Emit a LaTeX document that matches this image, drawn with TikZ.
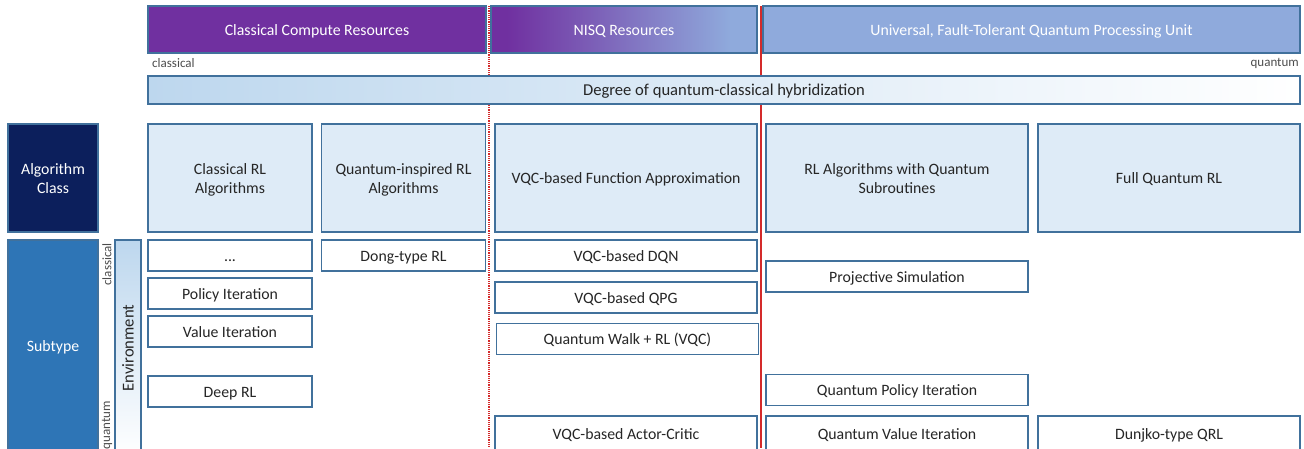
\documentclass[tikz,border=0pt]{standalone}
\usepackage{fontspec}
\setmainfont{Carlito}
\usetikzlibrary{positioning}
\definecolor{purp}{HTML}{7030A0}
\definecolor{nisqblue}{HTML}{8FAADC}
\definecolor{frame}{HTML}{41719C}
\definecolor{navy}{HTML}{0C1F5C}
\definecolor{subblue}{HTML}{2E75B6}
\definecolor{pale}{HTML}{DEEBF7}
\definecolor{hybrid}{HTML}{BDD7EE}
\definecolor{ink}{HTML}{262626}
\definecolor{divider}{HTML}{D42A2A}
\pgfdeclarehorizontalshading{nisqshade}{100bp}{color(0bp)=(purp); color(28bp)=(purp);
    color(70bp)=(nisqblue); color(100bp)=(nisqblue)}

\begin{document}
\begin{tikzpicture}[
    x=1pt, y=-1pt,
    every node/.style={font=\fontsize{15.8}{19}\selectfont, text=ink},
    one/.style={text height=14, text depth=3},
    two/.style={text height=33, text depth=3},
    res/.style={rectangle, draw=frame, line width=1.3, minimum height=47, text=white, one},
    cls/.style={rectangle, draw=frame, fill=pale, line width=1.3, minimum width=164, 
        minimum height=108, align=center},
    sub/.style={rectangle, draw=frame, fill=white, line width=1.3, minimum width=164, 
        minimum height=31, outer sep=0, one},
    side/.style={rectangle, draw=frame, line width=1.3, minimum width=90, text=white, 
        align=center},
    tag/.style={font=\fontsize{13}{15}\selectfont, text=black!70, inner sep=1},
    ]

    \useasboundingbox (0,0) rectangle (1304,448);
    \clip (0,0) rectangle (1304,448);

    % dividers
    \coordinate (nisq-top) at (489,6);
    \coordinate (nisq-bot) at (489,448);
    \coordinate (qpu-top) at (761,6);
    \coordinate (qpu-bot) at (761,448);
    \draw [divider, densely dotted, line width=1.2] (nisq-top) -- (nisq-bot);
    \draw [divider, line width=1.2] (qpu-top) -- (qpu-bot);

    % resources
    \node (cpu) [res, fill=purp, minimum width=338] at (317,29.5) {Classical Compute Resources};
    \node (nisq) [res, shading=nisqshade, minimum width=266] at (624,29.5) {NISQ Resources};
    \node (qpu) [res, fill=nisqblue, minimum width=537] at (1031.5,29.5) 
        {Universal, Fault-Tolerant Quantum Processing Unit};

    \node (lo) [tag, anchor=west] at (151,63) {classical};
    \node (hi) [tag, anchor=east] at (1300,63) {quantum};
    \node (degree) [rectangle, draw=frame, line width=1.3, left color=hybrid, right color=white, 
        minimum width=1152, minimum height=28, font=\fontsize{16.6}{19}\selectfont, one] 
        at (724,90) {Degree of quantum-classical hybridization};

    % algorithm classes
    \node (alg) [side, fill=navy, minimum height=108, two] at (53,178) {Algorithm\\Class};
    \node (crl) [cls, two] at (230,178) {Classical RL\\Algorithms};
    \node (qirl) [cls, two] at (403.5,178) {Quantum-inspired RL\\Algorithms};
    \node (vqc) [cls, minimum width=262, one] at (626,178) {VQC-based Function Approximation};
    \node (qsub) [cls, minimum width=262, two] at (897,178) {RL Algorithms with Quantum\\Subroutines};
    \node (fqrl) [cls, minimum width=262, one] at (1169,178) {Full Quantum RL};

    % subtypes
    \node (subtype) [side, fill=subblue, minimum height=212, one] at (53,346) {Subtype};
    \node (env) [rectangle, draw=frame, line width=1.3, top color=hybrid, 
        bottom color=white, minimum width=26, minimum height=216] at (128,348) {};
    \node (env-lbl) [rotate=90, font=\fontsize{16.6}{19}\selectfont] at (env.center) {Environment};
    \node (env-cl) [tag, rotate=90, anchor=east] at (107,242) {classical};
    \node (env-qu) [tag, rotate=90, anchor=east] at (107,400) {quantum};

    \node (dots) [sub] at (230,255.5) {...};
    \node (pi) [sub, below=7pt of dots] {Policy Iteration};
    \node (vi) [sub, below=7pt of pi] {Value Iteration};
    \node (drl) [sub, below=29pt of vi] {Deep RL};
    \node (dong) [sub] at (403.5,255.5) {Dong-type RL};

    \node (dqn) [sub, minimum width=262] at (626,255.5) {VQC-based DQN};
    \node (qpg) [sub, minimum width=262] at (626,297.5) {VQC-based QPG};
    \node (qwalk) [sub, minimum width=262] at (627.5,339) {Quantum Walk + RL (VQC)};
    \node (ac) [sub, minimum width=262, minimum height=36] at (626,434) {VQC-based Actor-Critic};

    \node (ps) [sub, minimum width=262] at (897,276.5) {Projective Simulation};
    \node (qpi) [sub, minimum width=262] at (897,390) {Quantum Policy Iteration};
    \node (qvi) [sub, minimum width=262, minimum height=36] at (897,434) {Quantum Value Iteration};
    \node (dunjko) [sub, minimum width=262, minimum height=36] at (1169,434) {Dunjko-type QRL};
\end{tikzpicture}
\end{document}
